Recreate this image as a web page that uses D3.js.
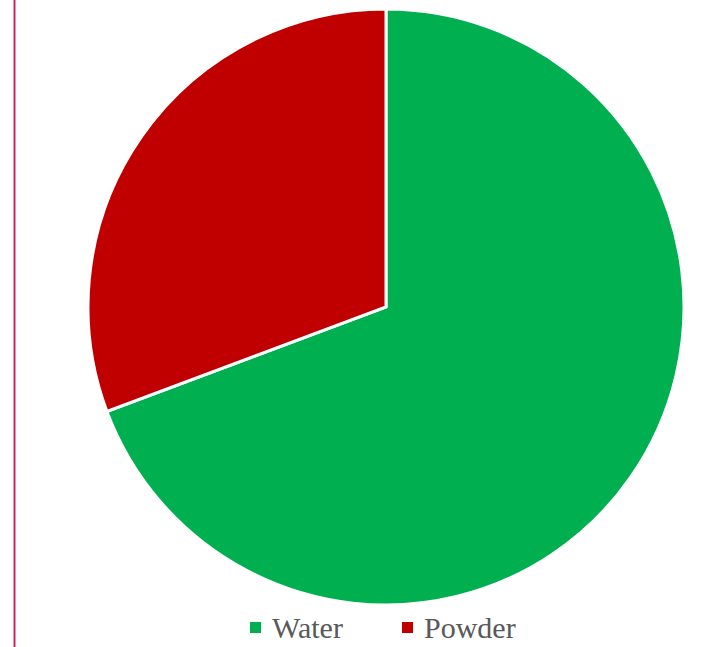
<!DOCTYPE html>
<html>
<head>
<meta charset="utf-8">
<script src="https://cdn.jsdelivr.net/npm/d3@7"></script>
<style>
  body { margin: 0; background: #fff; }
</style>
</head>
<body>
<div id="chart"></div>
<script>
const labels = ["Water", "Powder"];
const values = [69.3, 30.7];
const colors = ["#00b050", "#c00000"];

const width = 707;
const height = 647;
const cx = 386, cy = 307, radius = 298;

const svg = d3.select("#chart")
  .append("svg")
  .attr("width", width)
  .attr("height", height);

// left border line
svg.append("line")
  .attr("x1", 14.5).attr("x2", 14.5)
  .attr("y1", 0).attr("y2", height)
  .attr("stroke", "#d0245a")
  .attr("stroke-width", 2);

const pie = d3.pie().sort(null).value(d => d);
const arc = d3.arc().innerRadius(0).outerRadius(radius);

const color = d3.scaleOrdinal().domain(labels).range(colors);

svg.append("g")
  .attr("transform", `translate(${cx},${cy})`)
  .selectAll("path")
  .data(pie(values))
  .join("path")
    .attr("d", arc)
    .attr("fill", (d, i) => color(labels[i]))
    .attr("stroke", "#fff")
    .attr("stroke-width", 3)
    .attr("stroke-linejoin", "miter");

// legend
const legendX = [250, 402];
const legend = svg.append("g")
  .attr("class", "legend")
  .selectAll("g")
  .data(labels)
  .join("g")
    .attr("transform", (d, i) => `translate(${legendX[i]},622)`);

legend.append("rect")
  .attr("width", 11)
  .attr("height", 11)
  .attr("fill", d => color(d));

legend.append("text")
  .attr("x", 22)
  .attr("y", 16)
  .style("font-family", "'Liberation Serif', serif")
  .style("font-size", "30px")
  .attr("fill", "#595959")
  .text(d => d);
</script>
</body>
</html>
